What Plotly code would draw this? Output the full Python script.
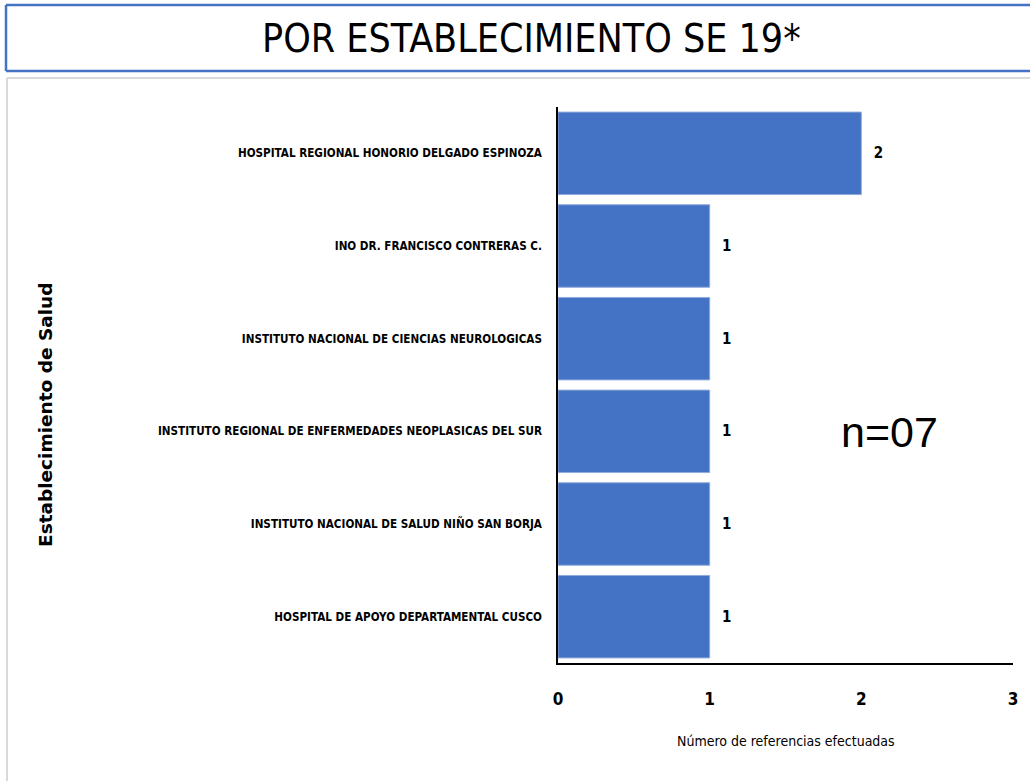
import plotly.graph_objects as go

categories = [
    "HOSPITAL REGIONAL HONORIO DELGADO ESPINOZA",
    "INO DR. FRANCISCO CONTRERAS C.",
    "INSTITUTO NACIONAL DE CIENCIAS NEUROLOGICAS",
    "INSTITUTO REGIONAL DE ENFERMEDADES NEOPLASICAS DEL SUR",
    "INSTITUTO NACIONAL DE SALUD NIÑO SAN BORJA",
    "HOSPITAL DE APOYO DEPARTAMENTAL CUSCO",
]
values = [2, 1, 1, 1, 1, 1]
x_ticks = [0, 1, 2, 3]

title_text = "POR ESTABLECIMIENTO SE 19*"
x_title = "Número de referencias efectuadas"
y_title = "Establecimiento de Salud"
n_text = "n=07"

FW, FH = 1030, 781
L, R, T, B = 558, FW - 1013, 107, FH - 663
PW, PH = FW - L - R, FH - T - B

def xp(px):
    return (px - L) / PW

def yp(py):
    return (FH - B - py) / PH

NARROW = "Liberation Sans Narrow, Arial Narrow, DejaVu Sans Condensed, sans-serif"

def frame_lines(x0, y0, y1, color, width):
    out = []
    for (a, b, c, d) in [(x0, y0, 1040, y0), (x0, y1, 1040, y1), (x0, y0, x0, y1)]:
        out.append(dict(type="line", xref="paper", yref="paper",
                        x0=xp(a), y0=yp(b), x1=xp(c), y1=yp(d),
                        line=dict(color=color, width=width)))
    return out

fig = go.Figure()
fig.add_trace(go.Bar(
    y=categories,
    x=values,
    orientation="h",
    marker=dict(color="#4472C4", line=dict(color="#8FAADC", width=1)),
    text=values,
    texttemplate="  %{x}",
    textposition="outside",
    textfont=dict(family=NARROW, size=15, color="black", weight="bold"),
    cliponaxis=False,
    width=0.89,
    hoverinfo="skip",
))

fig.update_layout(
    width=FW, height=FH,
    margin=dict(l=L, r=R, t=T, b=B),
    paper_bgcolor="white",
    plot_bgcolor="white",
    showlegend=False,
    xaxis=dict(
        range=[0, 3],
        tickvals=x_ticks,
        showgrid=False,
        zeroline=False,
        showline=True,
        linecolor="black",
        linewidth=2,
        ticks="",
        ticklabelstandoff=20,
        tickfont=dict(family=NARROW, size=17, color="black", weight="bold"),
    ),
    yaxis=dict(
        autorange="reversed",
        showgrid=False,
        zeroline=False,
        showline=True,
        linecolor="black",
        linewidth=1.5,
        ticks="",
        ticklabelstandoff=12,
        tickfont=dict(family=NARROW, size=11.6, color="black", weight="bold"),
    ),
    shapes=frame_lines(6, 5, 71, "#4472C4", 2.5) + frame_lines(7, 78, 800, "#D9D9D9", 2),
    annotations=[
        dict(text=title_text, xref="paper", yref="paper", x=xp(531), y=yp(38),
             showarrow=False, xanchor="center", yanchor="middle",
             font=dict(family=NARROW, size=39, color="black")),
        dict(text=x_title, xref="paper", yref="paper", x=xp(786), y=yp(741),
             showarrow=False, xanchor="center", yanchor="middle",
             font=dict(family=NARROW, size=14, color="black")),
        dict(text=y_title, xref="paper", yref="paper", x=xp(45), y=yp(415),
             showarrow=False, xanchor="center", yanchor="middle", textangle=-90,
             font=dict(family="DejaVu Sans, sans-serif", size=18.5, color="black", weight="bold")),
        dict(text=n_text, xref="paper", yref="paper", x=xp(889), y=yp(432),
             showarrow=False, xanchor="center", yanchor="middle",
             font=dict(family="Liberation Sans, Arial, sans-serif", size=43, color="black")),
    ],
)

fig.write_html("out.html", config={"displayModeBar": False},
               post_script="document.body.style.margin='0';")
